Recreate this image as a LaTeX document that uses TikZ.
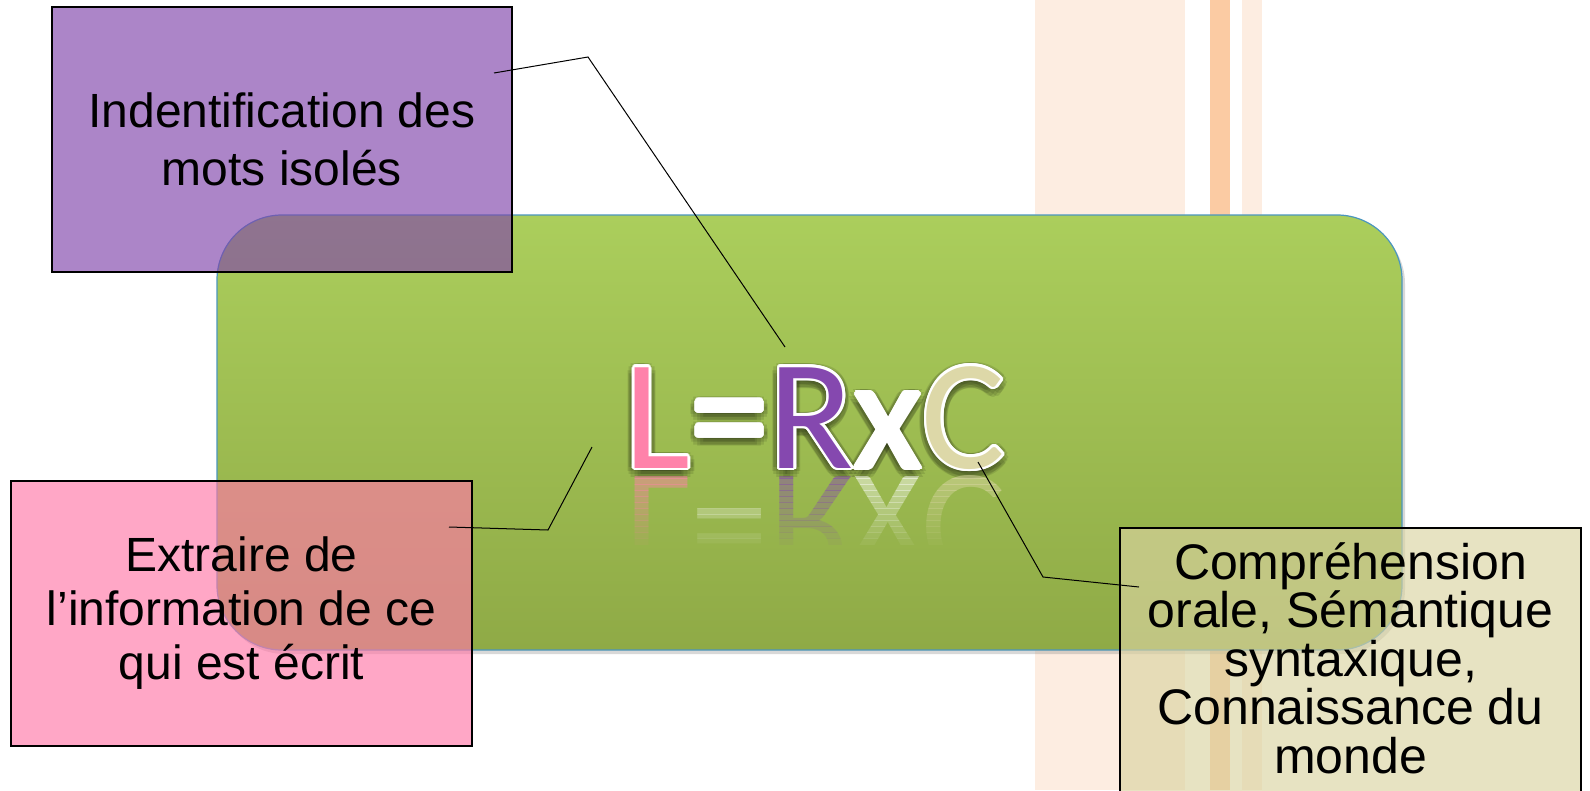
\documentclass[tikz,border=0pt]{standalone}
\usepackage{fontspec}
\setmainfont{Liberation Sans}
\newfontfamily\carlito{Carlito}
\usetikzlibrary{positioning, shadows}
\definecolor{stripelight}{RGB}{253,237,225}
\definecolor{stripedark}{RGB}{251,203,163}
\definecolor{greentop}{RGB}{171,206,92}
\definecolor{greenbot}{RGB}{143,170,70}
\definecolor{greenrim}{RGB}{75,150,190}
\definecolor{boxpurple}{RGB}{129,68,171}
\definecolor{boxpink}{RGB}{255,121,168}
\definecolor{boxbeige}{RGB}{219,212,162}
\definecolor{letterL}{RGB}{255,130,170}
\definecolor{letterR}{RGB}{133,72,175}
\definecolor{letterC}{RGB}{221,216,168}
\tikzstyle{callout}=[draw=black,line width=1.2pt,fill opacity=0.65,text opacity=1,align=center,inner sep=0pt]
\tikzstyle{pin}=[black,line width=1pt]
\tikzstyle{formula}=[inner sep=0pt,anchor=base,font=\carlito\fontsize{157}{160}\selectfont]
\newcommand\lrc[5]{\textcolor{#1}{L}\textcolor{#2}{=}\textcolor{#3}{R}\textcolor{#4}{x}\textcolor{#5}{C}}

\begin{document}
\begin{tikzpicture}[x=1pt,y=-1pt]
    \useasboundingbox (0,0) rectangle (1590,790);
    \fill[white] (0,0) rectangle (1590,790);
    % stripes on the right
    \fill[stripelight] (1035,0) rectangle (1185,790);
    \fill[stripedark] (1210,0) rectangle (1230,790);
    \fill[stripelight] (1242,0) rectangle (1262,790);
    % board
    \node[draw=greenrim,line width=1.2pt,rounded corners=65pt,top color=greentop,bottom color=greenbot,
        minimum width=1185pt,minimum height=435pt,
        drop shadow={opacity=0.3,shadow xshift=3pt,shadow yshift=-4pt}] (board) at (809.5,432.5) {};
    % L=RxC with shadow, outline and reflection
    \foreach \a in {0,30,...,330}
        \node[formula,opacity=0.1,shift={(\a:7pt)},yshift=-3pt] at (815,468) {\lrc{black}{black}{black}{black}{black}};
    \foreach \a in {0,22.5,...,337.5}
        \node[formula,shift={(\a:2.6pt)}] at (815,468) {\lrc{white}{white}{white}{white}{white}};
    \node[formula] (lrc) at (815,468) {\lrc{letterL}{white}{letterR}{white}{letterC}};
    \foreach \i [evaluate=\i as \op using 0.5-0.04*\i] in {0,...,11} {
        \begin{scope}
            \clip (600,472+\i*6) rectangle (1030,478+\i*6);
            \node[formula,yscale=-1,opacity=\op] at (815,476) {\lrc{letterL}{white}{letterR}{white}{letterC}};
        \end{scope}
    }
    % callouts
    \node[callout,fill=boxpurple,minimum width=460pt,minimum height=265pt,font=\fontsize{48}{58}\selectfont]
        (idm) at (282,139.5) {Indentification des\\mots isolés};
    \node[callout,fill=boxpink,minimum width=461pt,minimum height=265pt,font=\fontsize{48}{54}\selectfont]
        (ext) at (241.5,613.5) {Extraire de\\l’information de ce\\qui est écrit};
    \node[callout,fill=boxbeige,minimum width=461pt,minimum height=272pt,font=\fontsize{50}{48.5}\selectfont]
        (cmp) at (1350.5,664) {Compréhension\\orale, Sémantique\\syntaxique,\\Connaissance du\\monde\rule[-12pt]{0pt}{12pt}};
    % pins
    \coordinate (idm1) at (494,73);
    \coordinate (idm2) at (588,57);
    \coordinate (idm3) at (785,347);
    \coordinate (ext1) at (449,527);
    \coordinate (ext2) at (548,530);
    \coordinate (ext3) at (592,447);
    \coordinate (cmp1) at (1139,587);
    \coordinate (cmp2) at (1043,577);
    \coordinate (cmp3) at (978,462);
    \draw[pin] (idm1) -- (idm2) -- (idm3);
    \draw[pin] (ext1) -- (ext2) -- (ext3);
    \draw[pin] (cmp1) -- (cmp2) -- (cmp3);
\end{tikzpicture}
\end{document}
